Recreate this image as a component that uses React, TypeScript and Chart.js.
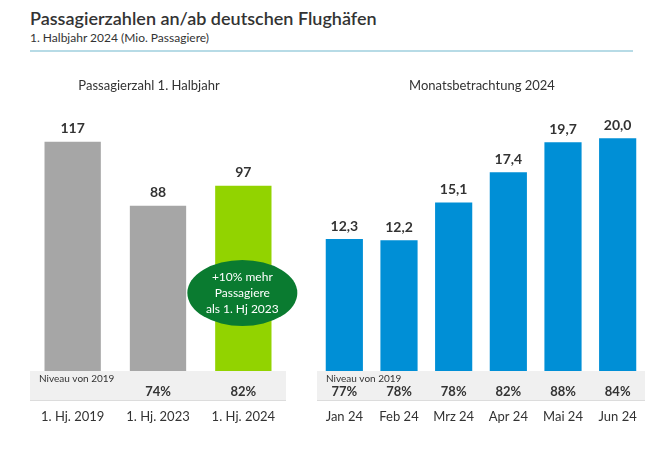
import React, { useEffect, useRef } from "react";
import { Chart, registerables } from "chart.js";

Chart.register(...registerables);

const FONT = "Lato, 'Open Sans', sans-serif";
const TEXT = "#333333";

// Left panel data
const halfYearCategories = ["1. Hj. 2019", "1. Hj. 2023", "1. Hj. 2024"];
const halfYearValues = [117, 88, 97];
const halfYearValueLabels = ["117", "88", "97"];
const halfYearShare = ["", "74%", "82%"];
const halfYearColors = ["#a6a6a6", "#a6a6a6", "#92d300"];

// Right panel data
const monthCategories = ["Jan 24", "Feb 24", "Mrz 24", "Apr 24", "Mai 24", "Jun 24"];
const monthValues = [12.3, 12.2, 15.1, 17.4, 19.7, 20.0];
const monthValueLabels = ["12,3", "12,2", "15,1", "17,4", "19,7", "20,0"];
const monthShare = ["77%", "78%", "78%", "82%", "88%", "84%"];

const calloutLines = ["+10% mehr", "Passagiere", "als 1. Hj 2023"];

function makeDeco(opts: {
  id: string;
  title: string;
  titleX: number;
  bandLeft: number;
  bandRight: number;
  valueLabels: string[];
  share: string[];
  categories: string[];
  niveauX: number;
  callout?: boolean;
}) {
  return {
    id: opts.id,
    beforeDatasetsDraw(chart: any) {
      const ctx = chart.ctx;
      ctx.save();
      ctx.fillStyle = TEXT;
      ctx.font = `13px ${FONT}`;
      ctx.textAlign = "center";
      ctx.textBaseline = "middle";
      ctx.fillText(opts.title, opts.titleX, 86);
      ctx.restore();
    },
    afterDatasetsDraw(chart: any) {
      const ctx = chart.ctx;
      const meta = chart.getDatasetMeta(0);
      ctx.save();
      // band
      ctx.fillStyle = "#f0f0f0";
      ctx.fillRect(opts.bandLeft, 371, opts.bandRight - opts.bandLeft, 29);
      ctx.fillStyle = "#dcdcdc";
      ctx.fillRect(opts.bandLeft, 400, opts.bandRight - opts.bandLeft, 1);
      ctx.textBaseline = "middle";
      ctx.fillStyle = TEXT;
      ctx.textAlign = "left";
      ctx.font = `10px ${FONT}`;
      ctx.fillText("Niveau von 2019", opts.niveauX, 379);
      ctx.textAlign = "center";
      meta.data.forEach((bar: any, i: number) => {
        ctx.fillStyle = TEXT;
        ctx.font = `bold 14px ${FONT}`;
        ctx.fillText(opts.valueLabels[i], bar.x, bar.y - 13);
        ctx.font = `bold 13px ${FONT}`;
        if (opts.share[i]) ctx.fillText(opts.share[i], bar.x, 392);
        ctx.font = `13px ${FONT}`;
        ctx.fillText(opts.categories[i], bar.x, 417);
      });
      if (opts.callout) {
        const b = meta.data[2];
        const cx = b.x - 1;
        const cy = 293;
        ctx.fillStyle = "#0a7b30";
        ctx.beginPath();
        ctx.ellipse(cx, cy, 55, 33, 0, 0, Math.PI * 2);
        ctx.fill();
        ctx.fillStyle = "#ffffff";
        ctx.font = `12px ${FONT}`;
        calloutLines.forEach((t, i) => ctx.fillText(t, cx, cy - 16 + i * 16));
      }
      ctx.restore();
    },
  };
}

function baseOptions(max: number, padding: any, barPct: number) {
  return {
    responsive: false,
    animation: false as const,
    layout: { padding },
    plugins: { legend: { display: false }, tooltip: { enabled: false }, title: { display: false } },
    datasets: { bar: { categoryPercentage: 1, barPercentage: barPct } },
    scales: {
      x: { display: false },
      y: { display: false, min: 0, max },
    },
  };
}

export default function App() {
  const leftRef = useRef<HTMLCanvasElement>(null);
  const rightRef = useRef<HTMLCanvasElement>(null);

  useEffect(() => {
    const left = new Chart(leftRef.current!, {
      type: "bar",
      data: {
        labels: halfYearCategories,
        datasets: [{ data: halfYearValues, backgroundColor: halfYearColors, borderWidth: 0 }],
      },
      options: baseOptions(130, { top: 113, bottom: 58, left: 30, right: 14 }, 0.66) as any,
      plugins: [
        makeDeco({
          id: "leftDeco",
          title: "Passagierzahl 1. Halbjahr",
          titleX: 149,
          bandLeft: 30,
          bandRight: 286,
          valueLabels: halfYearValueLabels,
          share: halfYearShare,
          categories: halfYearCategories,
          niveauX: 39,
          callout: true,
        }),
      ],
    });
    const right = new Chart(rightRef.current!, {
      type: "bar",
      data: {
        labels: monthCategories,
        datasets: [{ data: monthValues, backgroundColor: "#008fd6", borderWidth: 0 }],
      },
      options: baseOptions(23, { top: 99, bottom: 58, left: 17, right: 5 }, 0.68) as any,
      plugins: [
        makeDeco({
          id: "rightDeco",
          title: "Monatsbetrachtung 2024",
          titleX: 182,
          bandLeft: 17,
          bandRight: 345,
          valueLabels: monthValueLabels,
          share: monthShare,
          categories: monthCategories,
          niveauX: 26,
        }),
      ],
    });
    return () => {
      left.destroy();
      right.destroy();
    };
  }, []);

  return (
    <div style={{ position: "absolute", left: 0, top: 0, width: 650, height: 458, background: "#fff", fontFamily: FONT, color: TEXT }}>
      <div style={{ position: "absolute", left: 30, top: 7, fontSize: 18, fontWeight: 600, whiteSpace: "nowrap", lineHeight: "22px" }}>
        Passagierzahlen an/ab deutschen Flughäfen
      </div>
      <div style={{ position: "absolute", left: 30, top: 30, fontSize: 12, whiteSpace: "nowrap", lineHeight: "16px" }}>
        1. Halbjahr 2024 (Mio. Passagiere)
      </div>
      <div style={{ position: "absolute", left: 30, top: 50, width: 603, height: 2, background: "#b7dbe6" }} />
      <canvas ref={leftRef} width={300} height={458} style={{ position: "absolute", left: 0, top: 0 }} />
      <canvas ref={rightRef} width={350} height={458} style={{ position: "absolute", left: 300, top: 0 }} />
    </div>
  );
}
